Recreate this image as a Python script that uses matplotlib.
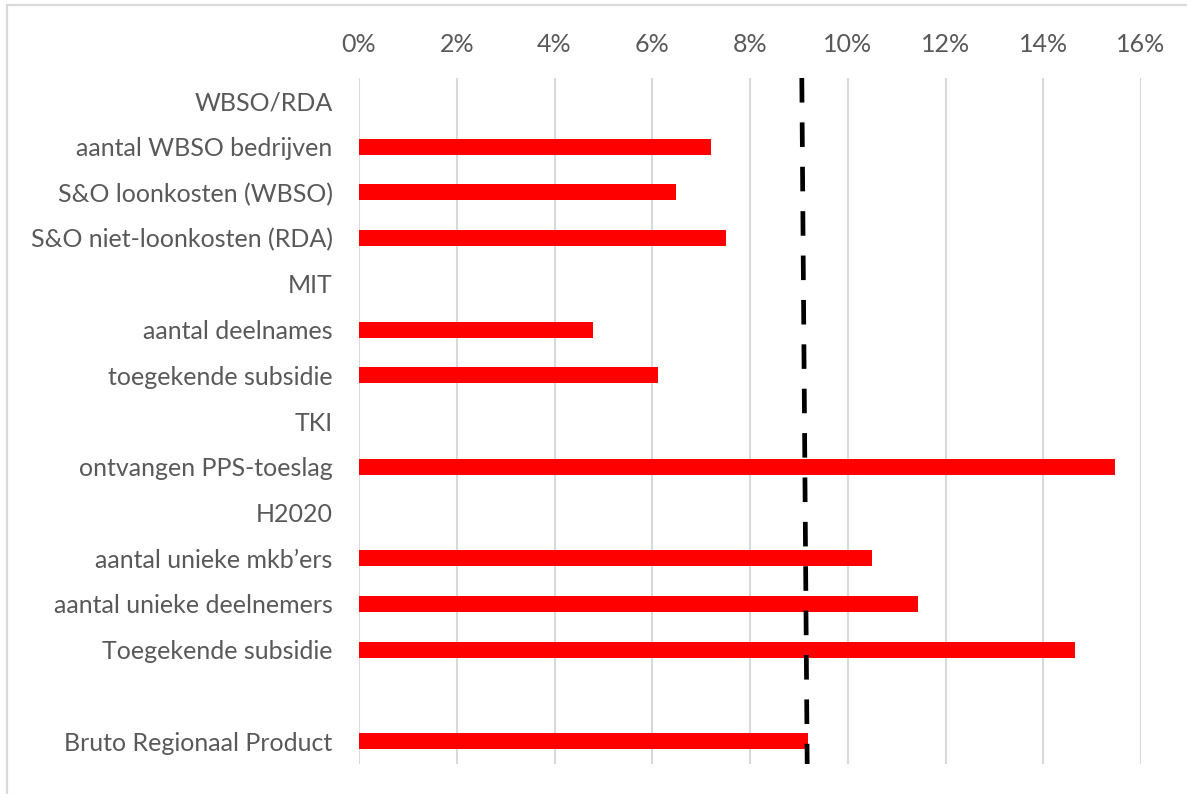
import matplotlib
matplotlib.use("Agg")
import matplotlib.pyplot as plt
from matplotlib.patches import Rectangle
from matplotlib.ticker import FuncFormatter

categories = ["WBSO/RDA", "aantal WBSO bedrijven", "S&O loonkosten (WBSO)",
              "S&O niet-loonkosten (RDA)", "MIT", "aantal deelnames",
              "toegekende subsidie", "TKI", "ontvangen PPS-toeslag", "H2020",
              "aantal unieke mkb\u2019ers", "aantal unieke deelnemers",
              "Toegekende subsidie", "", "Bruto Regionaal Product"]
values = [None, 7.2, 6.48, 7.5, None, 4.79, 6.11, None, 15.46, None,
          10.49, 11.43, 14.64, None, 9.18]
ref_line_x = [9.06, 9.17]  # dashed reference line, top -> bottom
xticks = [0, 2, 4, 6, 8, 10, 12, 14, 16]

W, H = 1187, 794
fig = plt.figure(figsize=(W / 100, H / 100), dpi=100)
ax = fig.add_axes([359 / W, 1 - 764 / H, (1141 - 359) / W, (764 - 78) / H])

n = len(categories)
ypos = list(range(n))
for y, v in zip(ypos, values):
    if v is not None:
        ax.barh(y, v, height=0.35, color="#ff0000", zorder=3)

ax.set_ylim(n - 0.5, -0.5)
ax.set_xlim(0, 16)
ax.set_yticks(ypos)
ax.set_yticklabels(categories)
ax.set_xticks(xticks)
ax.xaxis.set_major_formatter(FuncFormatter(lambda x, p: f"{x:.0f}%"))
ax.xaxis.tick_top()

for s in ax.spines.values():
    s.set_visible(False)
ax.tick_params(axis="both", length=0, labelsize=18, labelcolor="#595959")
ax.tick_params(axis="y", pad=19)
ax.tick_params(axis="x", pad=16)
for lab in ax.get_xticklabels() + ax.get_yticklabels():
    lab.set_family(["Lato", "DejaVu Sans"])

ax.grid(axis="x", color="#d9d9d9", linewidth=1.5, zorder=0)
ax.set_axisbelow(True)

ax.plot(ref_line_x, [-0.5, n - 0.5], color="black", linewidth=3.4,
        linestyle=(0, (5.2, 4.2)), zorder=4)

fig.patches.append(Rectangle((7 / W, -0.1), 1.2, 1 - 5 / H + 0.1,
                             transform=fig.transFigure, fill=False,
                             edgecolor="#d9d9d9", linewidth=1.6))

fig.savefig("out.png", dpi=100)
